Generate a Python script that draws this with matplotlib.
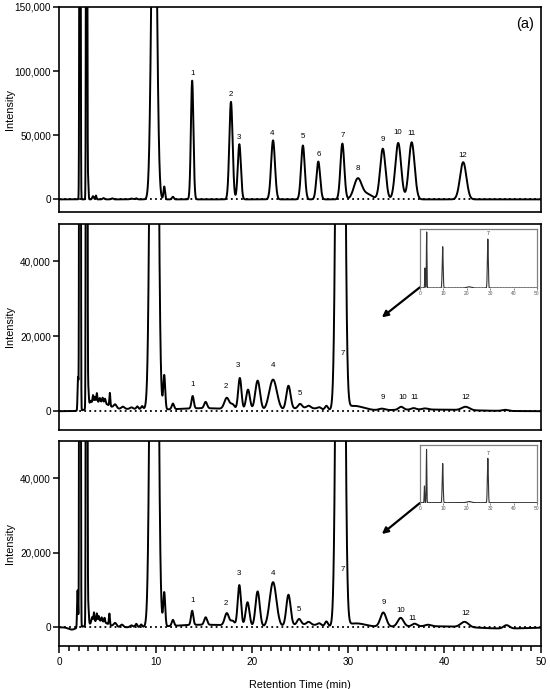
import numpy as np
import matplotlib
matplotlib.use('Agg')
import matplotlib.pyplot as plt
from matplotlib.ticker import MultipleLocator, FuncFormatter

plt.rcParams['font.family'] = ['Liberation Sans', 'DejaVu Sans']

# ---------------- data: peak tables (retention time [min], height, width sigma [min]) ----------------
a_centers = [2.15, 2.84, 3.0, 3.5, 3.8, 4.6, 5.5, 7.5, 8.0, 9.85, 10.9, 11.8,
             13.8, 17.83, 18.7, 22.2, 25.3, 26.9, 29.4, 31.0, 32.0, 33.6, 35.2, 36.6, 41.95]
a_heights = [1.0e6, 1.0e6, 15000, 2500, 3000, 1000, 800, 600, 800, 330000, 10000, 2000,
             92500, 76000, 43000, 46000, 42000, 29500, 43500, 16000, 4000, 39500, 44000, 44500, 29000]
a_sigmas = [0.045, 0.045, 0.04, 0.08, 0.06, 0.1, 0.1, 0.15, 0.1, 0.25, 0.08, 0.1,
            0.13, 0.17, 0.16, 0.2, 0.19, 0.19, 0.2, 0.4, 0.5, 0.28, 0.3, 0.3, 0.33]

b_centers = [1.95, 2.15, 2.84, 3.0, 3.25, 3.5, 3.7, 3.9, 4.2, 4.5, 4.75, 5.25, 5.8, 6.6, 7.5, 8.1, 8.6,
             9.85, 10.9, 11.8, 13.85, 15.2, 17.4, 18.0, 18.75, 19.6, 20.6, 22.2, 23.8, 25.0, 25.9,
             27.0, 27.75, 29.2, 33.5, 35.5, 36.8, 38.0, 42.2, 46.3,
             4.2, 7.0, 15.0, 25.5, 30.6, 38.0]
b_heights = [9000, 1.0e6, 1.0e6, 5500, 1500, 2500, 1800, 2500, 1000, 1200, 1200, 3500, 1000, 600, 400, 700, 800,
             350000, 9000, 1500, 3300, 1700, 3000, 1300, 8500, 5500, 8000, 8300, 6300, 1100, 600,
             500, 1100, 400000, 400, 800, 400, 300, 900, 300,
             2200, 600, 800, 900, 1300, 450]
b_sigmas = [0.05, 0.045, 0.045, 0.06, 0.1, 0.06, 0.06, 0.05, 0.06, 0.06, 0.06, 0.05, 0.15, 0.15, 0.15, 0.1, 0.1,
            0.27, 0.1, 0.12, 0.12, 0.15, 0.25, 0.2, 0.17, 0.2, 0.25, 0.4, 0.22, 0.2, 0.2,
            0.2, 0.15, 0.28, 0.3, 0.25, 0.25, 0.3, 0.4, 0.3,
            0.8, 2.5, 3.0, 1.5, 1.0, 4.5]

c_centers = [1.3, 1.9, 2.15, 2.84, 3.0, 3.4, 3.6, 3.9, 4.1, 4.4, 4.7, 5.2, 5.8, 6.5, 7.5, 8.0, 8.5,
             9.85, 10.9, 11.8, 13.8, 15.2, 17.4, 18.0, 18.7, 19.55, 20.6, 22.2, 23.8, 24.9, 25.9,
             27.0, 27.75, 29.2, 33.65, 35.45, 36.9, 38.3, 42.1, 46.45,
             4.1, 15.0, 25.5, 30.8, 38.0, 46.0]
c_heights = [-600, 10000, 1.0e6, 1.0e6, 5500, 1500, 2500, 2000, 1200, 1000, 1200, 3000, 1000, 700, 500, 900, 700,
             350000, 9000, 1600, 3800, 2000, 3300, 1300, 11000, 6500, 9500, 12000, 8300, 1500, 700,
             600, 1300, 400000, 3800, 2300, 700, 400, 1400, 900,
             1800, 700, 800, 1000, 300, -350]
c_sigmas = [0.35, 0.05, 0.045, 0.045, 0.06, 0.07, 0.05, 0.05, 0.05, 0.05, 0.05, 0.05, 0.15, 0.15, 0.15, 0.1, 0.1,
            0.27, 0.1, 0.12, 0.12, 0.15, 0.22, 0.2, 0.17, 0.2, 0.22, 0.35, 0.22, 0.2, 0.2,
            0.2, 0.15, 0.28, 0.3, 0.3, 0.25, 0.3, 0.4, 0.3,
            0.8, 3.0, 1.5, 1.0, 4.0, 2.5]

# inset overview traces (normalized)
bi_centers = [2.14, 2.86, 9.7, 21.0, 29.0]
bi_heights = [0.34, 0.95, 0.70, 0.02, 0.83]
ci_centers = [1.9, 2.8, 9.7, 21.0, 29.0]
ci_heights = [0.29, 0.925, 0.68, 0.02, 0.77]
inset_sigmas = [0.12, 0.12, 0.2, 1.0, 0.2]

# peak labels
peak_names = ['1', '2', '3', '4', '5', '6', '7', '8', '9', '10', '11', '12']
a_lab_x = [13.81, 17.8, 18.69, 22.05, 25.27, 26.93, 29.43, 31.05, 33.58, 35.14, 36.6, 41.95]
a_lab_y = [98400, 82000, 47900, 51300, 48700, 34800, 49700, 24300, 46600, 51800, 51300, 34300]
b_names = ['1', '2', '3', '4', '5', '7', '9', '10', '11', '12']
b_lab_x = [13.85, 17.31, 18.56, 22.16, 25.0, 29.49, 33.65, 35.62, 36.87, 42.23]
b_lab_y = [7200, 6500, 12100, 12100, 4600, 15250, 3600, 3600, 3600, 3600]
c_names = ['1', '2', '3', '4', '5', '7', '9', '10', '11', '12']
c_lab_x = [13.81, 17.28, 18.66, 22.16, 24.93, 29.49, 33.75, 35.48, 36.73, 42.23]
c_lab_y = [7200, 6500, 14350, 14350, 4750, 15400, 6550, 4500, 2250, 3600]

t = np.linspace(0, 50, 10001)


def trace(centers, heights, sigmas):
    c = np.asarray(centers, float)[:, None]
    h = np.asarray(heights, float)[:, None]
    s = np.asarray(sigmas, float)[:, None]
    return (h * np.exp(-0.5 * ((t[None, :] - c) / s) ** 2)).sum(axis=0)


fig = plt.figure(figsize=(5.5, 6.89), dpi=100)
L, W = 0.1078, 0.8753
ax_a = fig.add_axes([L, 0.692, W, 0.298])
ax_b = fig.add_axes([L, 0.3759, W, 0.2997])
ax_c = fig.add_axes([L, 0.0624, W, 0.298])

fmt = FuncFormatter(lambda v, p: f'{int(round(v)):,}')

panels = [
    (ax_a, trace(a_centers, a_heights, a_sigmas), (-10000, 150000), 50000, peak_names, a_lab_x, a_lab_y, '(a)'),
    (ax_b, trace(b_centers, b_heights, b_sigmas), (-5000, 50000), 20000, b_names, b_lab_x, b_lab_y, '(b)'),
    (ax_c, trace(c_centers, c_heights, c_sigmas), (-5000, 50000), 20000, c_names, c_lab_x, c_lab_y, '(c)'),
]

for ax, y, ylim, step, names, lx, ly, tag in panels:
    ax.plot(t, y, color='black', lw=1.4, zorder=3)
    ax.axhline(0, color='black', lw=1.3, ls=(0, (1, 1.8)), zorder=2)
    ax.set_xlim(0, 50)
    ax.set_ylim(*ylim)
    ax.yaxis.set_major_locator(MultipleLocator(step))
    ax.yaxis.set_major_formatter(fmt)
    ax.tick_params(axis='y', direction='out', length=4, width=1.1, labelsize=7.2, pad=2)
    for s in ax.spines.values():
        s.set_linewidth(1.2)
    ax.set_ylabel('Intensity', fontsize=7.8)
    ax.yaxis.set_label_coords(-0.091, 0.5)
    for n, x0, y0 in zip(names, lx, ly):
        ax.text(x0, y0, n, fontsize=5.7, ha='center', va='center', zorder=4)
    ax.text(0.967, 0.918, tag, transform=ax.transAxes, ha='center', va='center', fontsize=10.5)

for ax in (ax_a, ax_b):
    ax.tick_params(axis='x', bottom=False, labelbottom=False)

ax_c.xaxis.set_major_locator(MultipleLocator(10))
ax_c.xaxis.set_minor_locator(MultipleLocator(1))
ax_c.tick_params(axis='x', which='major', direction='out', length=5, width=1.1, labelsize=7.2, pad=3)
ax_c.tick_params(axis='x', which='minor', direction='out', length=3.5, width=1.1)
ax_c.set_xlabel('Retention Time (min)', fontsize=7.8, labelpad=9)

# insets + arrows
for ax, rect, ic, ih, arrow_start in [
        (ax_b, [0.7636, 0.582, 0.2127, 0.0856], bi_centers, bi_heights, (37.45, 33000)),
        (ax_c, [0.7636, 0.2704, 0.2127, 0.0837], ci_centers, ci_heights, (37.45, 33300))]:
    ins = fig.add_axes(rect)
    ins.set_facecolor('white')
    ins.plot(t, trace(ic, ih, inset_sigmas), color='#333333', lw=0.8)
    ins.axhline(0, color='black', lw=1.0, ls=(0, (1, 1.2)), zorder=3)
    ins.set_xlim(0, 50)
    ins.set_ylim(0, 1.0)
    ins.set_yticks([])
    ins.set_xticks([0, 10, 20, 30, 40, 50])
    ins.tick_params(axis='x', length=1.5, width=0.5, colors='#555555', labelsize=3.5, pad=1)
    for k, s in ins.spines.items():
        s.set_color('#808080')
        s.set_linewidth(0.9)
    ins.spines['bottom'].set_visible(False)
    ins.text(29.0, ih[-1] + 0.09, '7', fontsize=3.8, ha='center', va='center', color='#333333')
    ax.annotate('', xy=(33.5, 25000), xytext=arrow_start,
                arrowprops=dict(arrowstyle='-|>', color='black', lw=1.6,
                                mutation_scale=9, shrinkA=0, shrinkB=0), zorder=5)

fig.savefig('out.png', dpi=100)
